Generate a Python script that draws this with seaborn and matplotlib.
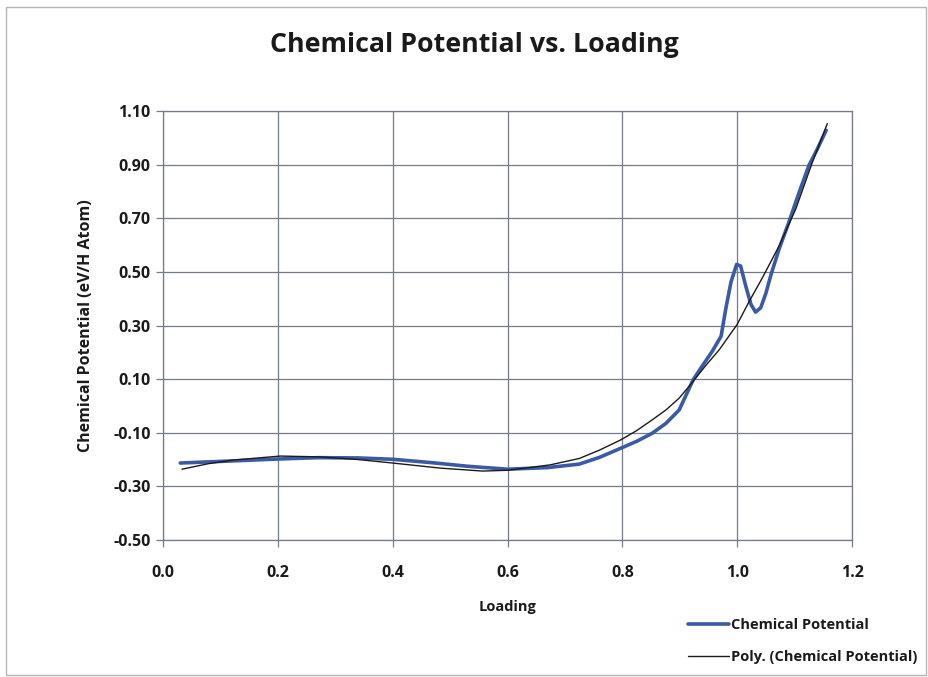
import matplotlib
matplotlib.use("Agg")
import matplotlib.pyplot as plt
import seaborn as sns
import pandas as pd
from matplotlib.patches import Rectangle

# Chemical potential (eV per H atom) against hydrogen loading
loading = [0.03, 0.10, 0.20, 0.27, 0.34, 0.40, 0.47, 0.53, 0.60, 0.67, 0.725,
           0.76, 0.797, 0.825, 0.852, 0.876, 0.899, 0.912, 0.924, 0.937, 0.957,
           0.972, 0.980, 0.989, 0.999, 1.006, 1.015, 1.024, 1.032, 1.041,
           1.050, 1.059, 1.073, 1.090, 1.108, 1.125, 1.140, 1.155]
potential = [-0.213, -0.207, -0.198, -0.193, -0.194, -0.199, -0.212, -0.225,
             -0.236, -0.230, -0.217, -0.192, -0.158, -0.132, -0.102, -0.065,
             -0.015, 0.045, 0.100, 0.142, 0.205, 0.260, 0.360, 0.460, 0.528,
             0.522, 0.447, 0.379, 0.350, 0.366, 0.420, 0.490, 0.585, 0.685,
             0.797, 0.897, 0.960, 1.028]

# Polynomial trendline of the chemical potential
trend_loading = [0.033, 0.08, 0.122, 0.204, 0.273, 0.34, 0.40, 0.483, 0.557,
                 0.60, 0.674, 0.725, 0.76, 0.797, 0.825, 0.852, 0.876, 0.899,
                 0.92, 0.945, 0.969, 1.0, 1.021, 1.044, 1.073, 1.102, 1.131,
                 1.157]
trend_potential = [-0.236, -0.215, -0.202, -0.187, -0.190, -0.200, -0.213,
                   -0.232, -0.243, -0.240, -0.220, -0.196, -0.165, -0.127,
                   -0.092, -0.052, -0.015, 0.029, 0.083, 0.150, 0.210, 0.304,
                   0.390, 0.478, 0.597, 0.734, 0.909, 1.053]

x_ticks = [0.0, 0.2, 0.4, 0.6, 0.8, 1.0, 1.2]
y_ticks = [-0.50, -0.30, -0.10, 0.10, 0.30, 0.50, 0.70, 0.90, 1.10]

sns.set_theme(style="white")
plt.rcParams["font.family"] = ["Open Sans", "DejaVu Sans"]

fig = plt.figure(figsize=(9.29, 6.77), dpi=100)
ax = fig.add_axes([0.1755, 0.2024, 0.7416, 0.6336])

# outer chart border
fig.patches.append(Rectangle((0.0065, 0.003), 0.99, 0.987, transform=fig.transFigure,
                             fill=False, edgecolor="#b5b5b5", linewidth=1.0))

df_main = pd.DataFrame({"Loading": loading, "Potential": potential})
df_trend = pd.DataFrame({"Loading": trend_loading, "Potential": trend_potential})

sns.lineplot(data=df_main, x="Loading", y="Potential", ax=ax, sort=False,
             estimator=None, color="#3b5aa6", linewidth=2.6,
             label="Chemical Potential")
sns.lineplot(data=df_trend, x="Loading", y="Potential", ax=ax, sort=False,
             estimator=None, color="#1a1a1a", linewidth=1.0,
             label="Poly. (Chemical Potential)")
for ln in ax.get_lines():
    ln.set_solid_joinstyle("round")
    ln.set_solid_capstyle("round")

ax.set_xlim(0.0, 1.2)
ax.set_ylim(-0.50, 1.10)
ax.set_xticks(x_ticks)
ax.set_yticks(y_ticks)
ax.set_xticklabels([f"{v:.1f}" for v in x_ticks])
ax.set_yticklabels([f"{v:.2f}" for v in y_ticks])
ax.grid(True, color="#737b88", linewidth=0.9)
for s in ax.spines.values():
    s.set_color("#737b88")
    s.set_linewidth(0.9)
ax.tick_params(axis="both", which="major", length=5, width=0.9, color="#737b88",
               labelsize=11.5, pad=4, direction="out", bottom=True, left=True)
for lbl in ax.get_xticklabels() + ax.get_yticklabels():
    lbl.set_fontweight("bold")
    lbl.set_color("#1a1a1a")
ax.tick_params(axis="x", pad=13)

ax.set_xlabel("Loading", fontsize=10.5, fontweight="bold", color="#1a1a1a", labelpad=14)
ax.set_ylabel("Chemical Potential (eV/H Atom)", fontsize=11.5, fontweight="bold",
              color="#1a1a1a", labelpad=14)

fig.text(0.511, 0.933, "Chemical Potential vs. Loading", ha="center", va="center",
         fontsize=19.3, fontweight="bold", color="#1a1a1a")

leg = ax.legend(loc="upper left", bbox_to_anchor=(0.741, 0.087), bbox_transform=fig.transFigure,
                frameon=False, fontsize=10.5, handlelength=2.8, handletextpad=0.1,
                labelspacing=1.25, borderaxespad=0, borderpad=0)
for t in leg.get_texts():
    t.set_fontweight("bold")
    t.set_color("#1a1a1a")

fig.savefig("out.png", dpi=100)
